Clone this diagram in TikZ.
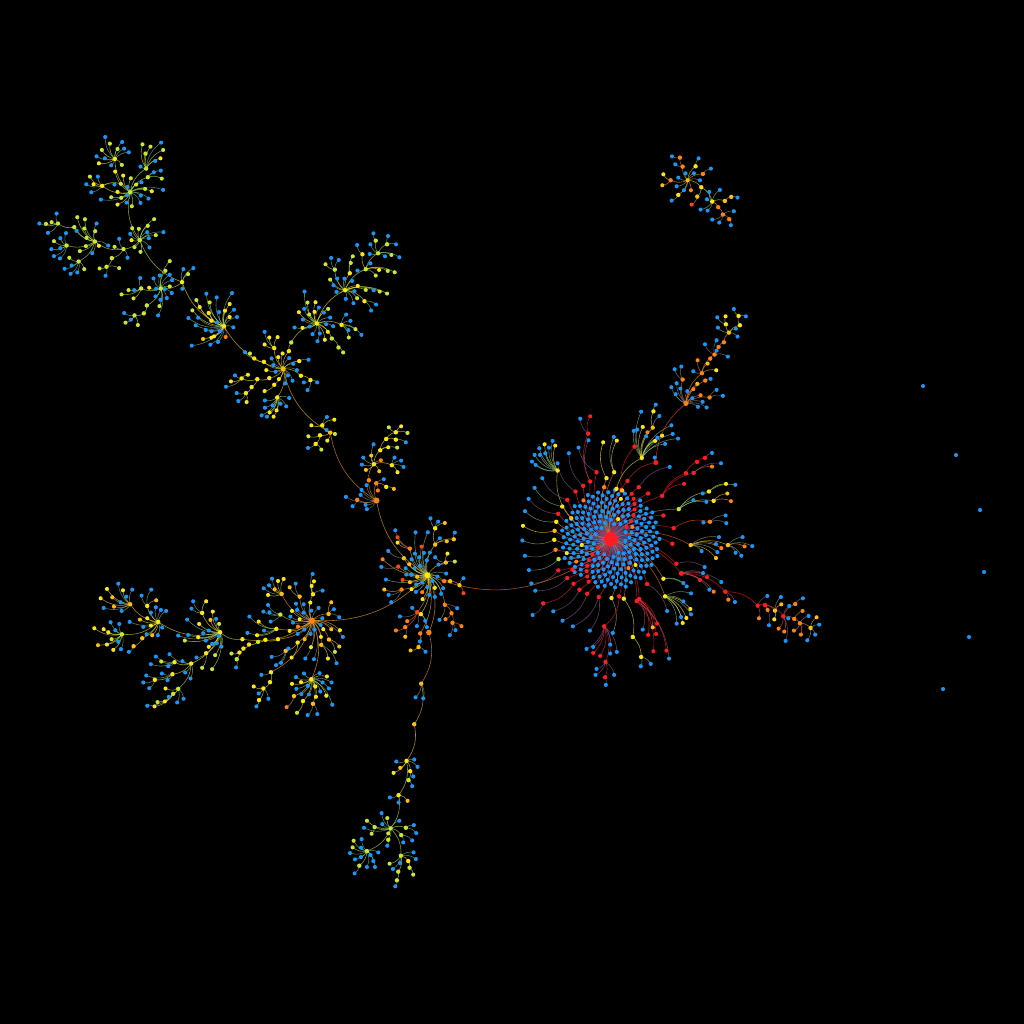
\documentclass[tikz,border=0pt]{standalone}
\pgfdeclarelayer{edges}
\pgfsetlayers{edges,main}
\definecolor{b}{RGB}{24,150,250}
\definecolor{y}{RGB}{250,232,20}
\definecolor{g}{RGB}{200,230,50}
\definecolor{a}{RGB}{250,190,20}
\definecolor{o}{RGB}{255,130,20}
\definecolor{m}{RGB}{255,70,20}
\definecolor{r}{RGB}{255,28,36}
\newcount\leafc
\newtoks\edgetoks
\tikzset{
 nd/.style={circle,inner sep=0pt,minimum size=#1,draw=none},
 nd/.default=0.041cm,
 lnk/.style={line width=0.16pt,bend left=24,opacity=0.68},
 zm/.style 2 args={shift={(#1,#2)},x=0.0033333cm,y=-0.0033333cm}
}
% links are collected and all drawn at the end, under the nodes
\newcommand\addlink[3]{%
 \edef\tmpl{\the\edgetoks\noexpand\draw[lnk,color=#3] (#1.center) to (#2.center);}%
 \global\edgetoks=\expandafter{\tmpl}}
% \HB[size]{parent}{name}{x}{y}{colour}: a node with a link from its parent
\newcommand\HB[6][0.044cm]{%
 \node[nd=#1,fill=#6] (#3) at (#4,#5) {};
 \expandafter\xdef\csname col@#3\endcsname{#6}%
 \edef\pcol{\csname col@#2\endcsname}%
 \addlink{#2}{#3}{\pcol!50!#6}}
% \LF{parent}{x/y/c,...}: leaves of a parent
\newcommand\LF[2]{%
 \edef\pcol{\csname col@#1\endcsname}%
 \foreach \px/\py/\cc in {#2}{%
  \global\advance\leafc by 1
  \node[nd,fill=\cc] (n\the\leafc) at (\px,\py) {};
  \addlink{#1}{n\the\leafc}{\pcol!50!\cc}}}
\begin{document}
\begin{tikzpicture}[x=0.01cm,y=-0.01cm]
\useasboundingbox (0,0) rectangle (1024,1024);
% free nodes
\foreach \px/\py [count=\i] in {923/386,956/455,980/510,984/572,969/637,943/689}{\node[nd,fill=b] (free\i) at (\px,\py) {};}
% main cluster
\node[nd=0.14cm,fill=r] (M) at (610.7,539) {};
\expandafter\xdef\csname col@M\endcsname{r}
\foreach \i in {20,...,244}{%
 \pgfmathsetmacro\rr{3.2*sqrt(\i)}%
 \pgfmathsetmacro\aa{mod(\i*0.381966,1)*360}%
 \pgfmathtruncatemacro\ma{mod(\i,17)}%
 \pgfmathtruncatemacro\mb{mod(\i,41)}%
 \pgfmathtruncatemacro\mc{mod(\i,53)}%
 \def\dc{b}%
 \ifnum\ma=5 \def\dc{r}\fi
 \ifnum\mb=3 \def\dc{y}\fi
 \ifnum\mc=7 \def\dc{o}\fi
 \node[nd,fill=\dc] (d\i) at ({610.7+\rr*cos(\aa)},{539+\rr*sin(\aa)}) {};
 \addlink{M}{d\i}{black!45!r!38!\dc}}
\begin{scope}[zm={500}{400}]
\HB{M}{ma}{290}{217}{r}\LF{ma}{236/143/b}
\HB{M}{mb}{271}{245}{r}\HB{mb}{mc}{265}{101}{r}\LF{mc}{241/56/b,271/49/r}\LF{mb}{266/121/b}
\HB{M}{md}{250}{258}{r}\LF{md}{207/160/b}
\HB{M}{me}{320}{235}{y}\LF{me}{310/127/y}
\HB{M}{mf}{343}{217}{y}\LF{mf}{351/122/y,342/111/b}
\HB{M}{mg}{227}{275}{r}\LF{mg}{173/190/b}
\HB{M}{mh}{214}{355}{a}\HB{mh}{mi}{173}{212}{y}
\LF{mi}{134/133/y,158/123/b,166/137/y,147/143/b,118/145/b,136/160/b,120/165/b,104/165/b,96/185/b,107/195/b}
\HB{M}{mj}{202}{300}{r}\LF{mj}{127/235/b}
\HB{M}{mk}{187}{320}{y}\LF{mk}{104/264/b}
\HB{M}{ml}{175}{342}{r}\LF{ml}{86/297/b}
\HB{M}{mm}{169}{366}{y}\LF{mm}{75/334/b}
\HB{M}{mn}{164}{393}{a}\LF{mn}{69/378/y}
\HB{M}{mo}{163}{420}{y}\LF{mo}{67/422/b}
\HB{M}{mp}{167}{450}{o}\LF{mp}{75/468/b}
\HB{M}{mq}{176}{478}{g}\LF{mq}{87/511/b}
\HB{M}{Ra}{218}{510}{r}
\HB{M}{mr}{175}{512}{r}\LF{mr}{94/551/b}
\HB{M}{ms}{202}{535}{r}\LF{ms}{106/573/b}
\HB{M}{mt}{221}{552}{r}\HB{mt}{mu}{130}{611}{r}\LF{mu}{98/646/b}
\HB{M}{mv}{239}{570}{r}\LF{mv}{160/635/b}
\HB{M}{mw}{262}{582}{r}\LF{mw}{188/663/b}
\HB{M}{mx}{297}{592}{r}\LF{mx}{219/680/b,270/693/b}
\HB{M}{my}{335}{595}{y}\LF{my}{339/700/b}
\HB{M}{mz}{358}{590}{r}\HB{mz}{na}{313}{680}{r}
\LF{na}{331/735/b,331/762/b,351/757/b,280/742/b,260/748/b,280/760/r,301/769/r}
\HB{na}{nb}{317}{787}{r}\LF{nb}{290/808/b,287/826/b,343/826/b}\HB{nb}{nc}{316}{833}{r}\LF{nc}{318/856/b}
\HB{M}{nd}{372}{597}{y}\HB{nd}{ne}{399}{712}{y}\HB{ne}{nf}{424}{772}{y}\LF{nf}{423/800/b,453/793/b}
\HB{M}{ng}{418}{598}{r}\LF{ng}{472/672/r,459/683/a,429/690/b,445/706/r,469/703/r}
\HB{M}{nh}{411}{604}{r}\LF{nh}{461/755/r,500/753/r}\LF{nh}{508/777/b}
\HB{M}{ni}{442}{553}{r}\LF{ni}{502/634/b}
\HB{M}{nj}{496}{590}{y}\LF{nj}{574/581/b,572/628/y,551/605/b,574/644/b,560/655/y,544/652/b,549/670/y,531/672/b}
\HB{M}{nk}{491}{537}{y}\LF{nk}{561/560/b,551/550/b}
\HB[0.05cm]{M}{nl}{545}{521}{r}\LF{nl}{601/541/r,622/532/r,629/570/b,642/576/o,665/547/b,610/520/b}
\HB{nl}{nm}{677}{576}{r}\LF{nm}{686/600/o,706/607/b}
\HB{M}{nn}{530}{492}{r}\LF{nn}{615/502/b}
\HB{M}{no}{573}{436}{a}\LF{no}{658/412/b,649/433/b,649/475/a,653/457/b,606/454/b,665/445/o}
\HB{no}{np}{685}{436}{a}\LF{np}{729/412/b,708/459/b,725/468/b,735/440/o,758/439/b}
\HB{M}{nq}{518}{432}{r}
\HB{M}{nr}{522}{385}{r}\HB{nr}{ns}{631}{366}{o}\LF{ns}{678/347/b,680/370/b,611/368/b}
\HB{M}{nt}{537}{328}{g}\HB{nt}{nu}{628}{275}{y}\LF{nu}{679/252/y,707/255/b,609/281/b}
\HB{nt}{nv}{642}{303}{y}\LF{nv}{683/281/a,694/304/o}\LF{nt}{620/306/b,581/301/b}
\HB{M}{nw}{487}{288}{r}\HB{nw}{nx}{582}{219}{r}\LF{nx}{637/200/o,664/190/b}
\HB{nw}{ny}{559}{220}{r}\HB{ny}{nz}{592}{186}{r}\HB{nz}{oa}{616}{174}{r}\LF{oa}{637/159/b}\LF{nw}{553/252/r}
\HB{M}{ob}{445}{281}{r}\HB{M}{oc}{491}{347}{r}
\HB{M}{od}{417}{262}{r}\LF{od}{510/201/b}
\HB{M}{oe}{383}{243}{r}\HB[0.05cm]{oe}{of}{468}{188}{r}\LF{of}{465/173/b}
\HB{M}{og}{365}{270}{r}\HB{og}{oh}{404}{140}{r}
\HB{M}{oi}{350}{267}{y}\HB{oi}{oj}{426}{174}{y}
\LF{oj}{402/93/b,412/89/b,424/35/b,429/81/y,443/97/o,439/109/b,466/123/y,487/107/y,473/113/b,515/76/b,519/102/b,496/132/b,535/116/b}
\HB{oj}{ok}{459}{83}{a}\LF{ok}{479/48/b}\HB{ok}{ol}{461}{34}{y}\LF{ol}{468/14/b}
\HB{M}{om}{313}{262}{o}\HB{M}{on}{367}{272}{a}
\end{scope}
% central-left hub
\begin{scope}[zm={340}{500}]
\HB[0.06cm]{Ra}{Hb}{263}{226}{y}
\HB{Hb}{ha}{210}{146}{o}\LF{ha}{173/112/m,173/128/y,166/91/b}
\HB{Hb}{hb}{192}{175}{a}\LF{hb}{145/153/b}
\LF{Hb}{208/193/a,197/205/b,215/178/b,225/161/b,238/172/b,252/159/b,270/158/b,261/181/b,240/198/b,224/205/b,214/224/b,199/224/b,232/231/a,245/140/m,227/97/b,264/97/b}
\HB{Hb}{hc}{286}{134}{a}\HB{hc}{hd}{286}{85}{y}\LF{hd}{315/69/a,295/65/b,272/55/b}\LF{hc}{321/124/a,300/115/b}\HB{hc}{he}{342}{118}{a}\LF{he}{345/98/b}
\HB{Hb}{hf}{318}{188}{a}\LF{hf}{323/161/y,345/185/g,296/194/b,286/172/b}
\LF{Hb}{319/221/b,293/230/b,277/243/b,263/262/b,247/248/b,247/277/o,229/254/b,210/247/a,188/240/m,138/239/b,215/268/y,228/276/b,285/264/y,310/265/b,304/282/b,285/291/b,268/285/b,248/298/y,128/178/o}
\HB{Hb}{hg}{313}{244}{o}\HB{hg}{hh}{331}{244}{a}\HB{hh}{hi}{359}{256}{a}\LF{hi}{371/235/b,371/280/m}
\HB{Hb}{hj}{185}{269}{o}\LF{hj}{133/269/a,146/285/b,154/307/b}
\HB{Hb}{hk}{175}{200}{m}\LF{hk}{124/201/b}
\HB{Hb}{hl}{315}{315}{o}\LF{hl}{352/325/b,299/360/b}\HB{hl}{hm}{335}{340}{o}\LF{hm}{317/358/o}\HB{hm}{hn}{338}{369}{o}\LF{hn}{347/391/b,330/406/b,365/379/o}
\HB{Hb}{ho}{232}{337}{m}\LF{ho}{217/324/b,180/350/b,202/364/o,231/379/b}\HB{ho}{hp}{196}{382}{o}\LF{hp}{168/392/o,196/411/a}
\HB{Hb}{hq}{243}{343}{y}\LF{hq}{256/363/b,261/382/b}
\HB{Hb}{hr}{241}{401}{o}\LF{hr}{240/425/b}\HB{hr}{hs}{236}{442}{a}\LF{hs}{212/452/a,257/456/b}
\HB[0.055cm]{Hb}{St}{267}{398}{o}
\end{scope}
% southern branch
\begin{scope}[zm={340}{670}]
\HB{St}{sa}{244}{41}{a}\LF{sa}{227/82/b,250/85/b}
\HB{sa}{sb}{223}{163}{a}\HB{sb}{sc}{200}{273}{y}\LF{sc}{169/275/b,223/269/b,233/291/b,181/294/a,161/309/y}
\HB{sc}{sd}{211}{304}{y}\LF{sd}{220/320/b}\HB{sd}{se}{206}{331}{g}\LF{se}{217/349/b}
\HB{sc}{sf}{176}{376}{y}\LF{sf}{150/383/b,176/398/b,203/393/a}
\HB{sf}{sg}{152}{476}{g}\LF{sg}{125/430/b,142/445/g,81/453/g,127/463/b,178/453/b,72/474/b,145/491/g}
\HB{sg}{sh}{104}{472}{g}\LF{sh}{95/492/g}\HB{sg}{si}{198}{474}{g}\LF{si}{222/466/b,229/490/b}
\HB{sg}{sj}{145}{510}{g}\LF{sj}{142/528/b}\HB{sg}{sk}{184}{496}{g}\LF{sk}{217/512/b,190/518/b}
\HB{sg}{sl}{81}{544}{g}\LF{sl}{41/513/g,65/508/b,38/533/g,63/534/b,30/550/b,45/569/b,63/562/b,92/556/b,115/548/b,100/574/b,81/592/b,105/592/b}\HB{sl}{sm}{58}{588}{g}\LF{sm}{44/611/b}
\HB{sg}{sn}{183}{558}{g}\LF{sn}{221/548/b,228/568/b,149/582/g,159/598/b,180/580/b}\HB{sn}{so}{205}{574}{y}\HB{so}{sp}{209}{594}{g}\LF{sp}{220/615/g}\HB{sn}{sq}{175}{606}{g}\HB{sq}{sr}{171}{632}{g}\LF{sr}{166/650/b}
\end{scope}
% lower-left
\begin{scope}[zm={80}{560}]
\HB[0.06cm]{Hb}{Wa}{697}{182}{o}
\HB{Wa}{wa}{606}{102}{a}\LF{wa}{565/105/y,552/85/b,568/76/b,577/56/b,595/63/y,612/57/y,585/88/a}
\HB{Wa}{wb}{660}{110}{a}\LF{wb}{630/82/a,648/71/b}
\HB{Wa}{wc}{700}{103}{y}\LF{wc}{696/78/y,703/64/y,699/42/b,729/92/b}
\LF{Wa}{692/128/y,672/133/b,649/131/b,652/150/b,672/158/b,695/152/b,717/144/b,660/178/y,632/170/b,640/188/b,637/153/y,630/213/y,655/200/o,654/222/b,674/209/b,693/222/b,705/209/b,723/195/b,728/175/b,731/208/y,755/208/a,781/211/y,790/231/b,724/231/y,694/262/y,677/296/b,703/298/b,675/238/a}
\HB{Wa}{wd}{747}{162}{a}\LF{wd}{755/127/a,763/148/b,779/172/b}
\HB{Wa}{we}{602}{164}{g}\LF{we}{551/155/b,569/157/b,565/135/b,573/185/b}
\HB{Wa}{wf}{590}{207}{y}\LF{wf}{537/185/y,509/170/b,553/212/b,532/226/y,503/219/b}
\HB{Wa}{wg}{748}{239}{a}\LF{wg}{779/260/a,766/276/g}
\HB{Wa}{wh}{725}{255}{a}\LF{wh}{745/296/y,771/310/b}
\HB{Wa}{wi}{654}{248}{y}\LF{wi}{636/293/y}\HB{wi}{wj}{618}{273}{a}\LF{wj}{626/266/b,604/309/b,589/316/b,576/291/b}
\HB{Wa}{wk}{595}{238}{y}\HB{wk}{wl}{557}{240}{y}\HB{wl}{wm}{535}{246}{g}\HB{wm}{wn}{508}{254}{y}\HB{wn}{wo}{491}{266}{y}\HB{wo}{wp}{479}{278}{y}\LF{wp}{455/281/g}\HB{wp}{wq}{471}{298}{g}\LF{wq}{469/323/b}
\HB{Wa}{wr}{574}{337}{y}\LF{wr}{545/345/b}\HB{wr}{ws}{571}{367}{y}\HB{ws}{wt}{551}{386}{y}\LF{wt}{522/380/y,537/401/b,566/417/b}\HB{wt}{wu}{538}{421}{y}\LF{wu}{530/440/b}
\HB{Wa}{wv}{695}{358}{y}\LF{wv}{649/352/b,673/341/b,720/340/b,742/350/y,756/368/b,664/367/y,650/387/b,637/372/y,665/403/b,685/378/b,688/404/b,729/368/b,748/386/b,722/395/b,740/408/y,709/411/y,758/435/b}
\HB{wv}{wx}{707}{380}{y}\HB{wv}{wy}{643}{409}{a}\LF{wy}{621/442/o}\HB{wv}{wz}{670}{424}{y}\LF{wz}{652/459/g}\HB{wv}{xa}{700}{432}{a}\LF{xa}{684/466/b,713/463/b}
\HB{Wa}{xb}{488}{238}{y}\HB{xb}{Wb}{421}{217}{y}
\LF{Wb}{418/192/g,392/180/a,399/155/y,322/179/b,358/192/y,409/177/b,387/212/b,370/220/b,378/242/b,411/250/b,397/252/b,417/228/b,425/260/b,387/261/y,406/286/g,397/328/g,355/232/y,315/242/g,325/225/b,295/227/b}
\HB{Wb}{wc1}{367}{159}{y}\LF{wc1}{340/124/b,379/124/y,335/146/b}
\HB{Wb}{wc2}{379}{280}{y}\LF{wc2}{367/324/g,350/293/b}
\HB{Wb}{Wc}{334}{311}{y}\LF{Wc}{269/283/b,308/304/b,316/338/b,332/356/b}
\HB{Wc}{wd1}{284}{307}{y}\LF{wd1}{228/290/b,213/313/b,244/305/g,265/319/b}
\HB{Wc}{wd2}{278}{343}{y}\LF{wd2}{246/341/b,199/347/b,263/361/b}\HB{wd2}{wd3}{225}{360}{y}\LF{wd3}{190/368/b,208/385/b}
\HB{Wc}{wd4}{295}{387}{g}\LF{wd4}{257/386/y,267/411/b,292/428/b,311/417/b}\HB{wd4}{wd5}{280}{402}{g}\LF{wd5}{255/425/y,233/427/g,224/440/y,202/438/b}
\HB{Wb}{Wd}{235}{186}{y}\LF{Wd}{180/179/a,202/175/y,149/186/b,190/201/b,213/197/y,200/223/b,217/226/a,234/226/b,247/203/b,213/158/b,228/142/b,243/150/b,259/153/b}
\HB{Wd}{we1}{202}{138}{y}\LF{we1}{185/107/b,229/121/a,214/89/b}
\HB{Wd}{we2}{187}{235}{a}\HB{we2}{we3}{161}{259}{a}\LF{we3}{147/276/b}
\HB{Wd}{we4}{151}{133}{a}\LF{we4}{129/91/y,97/112/a,115/71/b,139/110/b,81/87/y,62/115/y,102/140/a,71/144/b,125/153/b,122/127/b,157/89/b}
\HB{Wd}{Wf}{126}{223}{g}\LF{Wf}{85/217/y,71/208/y,43/205/y,92/187/b,118/192/b,106/211/b,95/238/g,81/254/y,54/256/a,100/270/y,123/268/b,115/246/b}
\end{scope}
% up the chain
\begin{scope}[zm={300}{410}]
\HB[0.06cm]{Hb}{Nb}{230}{272}{o}
\LF{Nb}{138/261/b,197/285/b,201/298/b,182/255/b,185/240/b,200/226/b}
\HB{Nb}{na1}{172}{270}{o}\LF{na1}{158/289/b}
\HB{Nb}{na2}{229}{220}{o}\LF{na2}{234/242/o,252/208/b}\HB{na2}{na3}{259}{231}{y}\LF{na3}{282/237/a}
\HB{Nb}{na4}{207}{211}{o}\HB{na4}{Nc}{222}{163}{y}
\LF{Nc}{190/143/b,186/164/b,198/180/a,238/184/a,214/137/a,221/103/b,243/151/o}
\HB{Nc}{nc1}{276}{166}{y}\LF{nc1}{284/143/b,304/152/b,311/171/b,293/187/y}
\HB{Nc}{nc2}{241}{121}{y}\LF{nc2}{265/112/y,292/113/g}\HB{nc2}{nc3}{259}{87}{y}\HB{nc3}{nc4}{288}{89}{y}\LF{nc4}{318/97/b}\HB{nc3}{nc5}{288}{67}{y}\LF{nc5}{267/52/g,304/49/y,323/69/g}
\HB{Nb}{Nd}{91}{68}{a}\LF{Nd}{105/72/g,82/92/y,80/60/b}
\HB{Nd}{nd1}{67}{46}{y}\LF{nd1}{81/21/b,103/29/y,34/46/y}
\HB{Nd}{nd2}{60}{76}{y}\LF{nd2}{25/79/g}\HB{nd2}{nd3}{47}{102}{y}\LF{nd3}{24/114/b,64/119/g}
\end{scope}
% root of upper-left tree
\begin{scope}[zm={220}{225}]
\HB[0.05cm]{Nd}{Ua}{190}{432}{a}
\LF{Ua}{188/386/y,175/397/y,155/401/b,208/400/b,220/417/b,160/421/b,231/436/b,139/436/y,167/441/b,177/463/y,204/452/b,218/468/b,196/476/b}
\HB{Ua}{ua1}{163}{370}{y}\LF{ua1}{134/321/b,148/338/y,173/337/y,134/359/y}
\HB{Ua}{ua2}{132}{411}{y}\HB{ua2}{ua3}{103}{401}{y}\LF{ua3}{90/386/g,75/382/b}
\HB{Ua}{ua4}{238}{409}{y}\LF{ua4}{266/405/b}
\HB{Ua}{ua5}{148}{460}{y}\HB{ua5}{ua6}{112}{463}{y}\HB{ua6}{ua7}{65}{461}{y}\LF{ua7}{33/470/y,18/486/b,45/452/b,84/450/y}
\HB{ua6}{ua8}{95}{487}{y}\HB{ua8}{ua9}{78}{505}{y}\LF{ua9}{50/505/b,55/529/b,80/532/y}
\HB{Ua}{ub1}{243}{453}{y}\HB{ub1}{ub2}{272}{466}{y}\LF{ub2}{292/473/b,263/496/b,252/473/b}
\HB{Ua}{ub3}{163}{480}{y}\LF{ub3}{134/499/y}
\HB{Ua}{ub4}{172}{518}{y}\LF{ub4}{208/520/b,135/527/b,199/545/b,182/537/b,158/542/b,135/549/b,149/563/y,125/572/b,141/576/b,161/576/y,170/557/y}
\HB{Ua}{ub5}{207}{379}{y}\HB{ub5}{ub6}{214}{353}{g}
\HB{ub6}{Uc}{291}{296}{y}
\LF{Uc}{263/233/g,287/232/y,284/261/y,268/269/g,297/248/b,312/263/b,325/252/g,331/278/b,237/262/y,253/252/b,254/200/b,249/284/b,248/309/y,224/308/b,270/305/b,278/328/b,293/349/b,300/326/b,315/345/y,319/298/b,340/304/b,324/321/y}
\HB{Uc}{uc1}{336}{341}{g}\HB{uc1}{uc2}{356}{368}{g}\LF{uc2}{370/383/g}
\HB{Uc}{uc3}{365}{300}{y}\LF{uc3}{379/269/b,392/288/b,407/313/g,387/338/g,386/316/b,425/330/b}
\HB{Uc}{Ud}{376}{196}{y}
\LF{Ud}{352/161/b,374/161/b,331/164/g,341/181/b,397/168/b,414/183/y,438/195/g,462/196/b,480/200/g,502/206/g,404/199/b,350/201/b,378/222/b,401/235/b,412/220/g}
\HB{Ud}{ud1}{345}{134}{g}\LF{ud1}{334/99/b,357/105/b,317/118/g}
\HB{Ud}{ud2}{390}{145}{y}\LF{ud2}{393/114/g,399/94/g}
\HB{Ud}{ud3}{434}{229}{y}\LF{ud3}{469/239/b,454/257/b}
\HB{Ud}{Ue}{438}{133}{g}\LF{Ue}{413/137/b,452/115/b,478/135/y,504/138/g,525/142/g,468/152/g}
\HB{Ue}{ue1}{428}{88}{y}\LF{ue1}{412/60/b}
\HB{Ue}{ue2}{475}{85}{g}\LF{ue2}{452/58/b,450/87/b,496/94/b,515/90/g,539/97/b}
\HB{ue2}{ue3}{468}{47}{g}\LF{ue3}{461/25/b}
\HB{ue2}{ue4}{502}{58}{g}\LF{ue4}{505/33/b,529/58/b}
\end{scope}
% top-left tree
\begin{scope}[zm={30}{130}]
\HB{Ua}{Ta}{583}{590}{y}
\LF{Ta}{520/628/a,528/601/b,545/605/b,570/605/b,545/624/y,553/620/y,565/637/b,542/645/b,588/622/o,486/648/b,611/593/b,622/562/b,600/562/y,613/540/b,586/543/y,607/490/b,600/523/y,568/547/b,562/578/b,498/587/b,505/564/b,476/565/b,488/542/g,500/511/g,530/492/b,540/518/g,561/503/b,510/532/y}
\HB{Ta}{ta1}{537}{550}{y}\HB{ta1}{ta2}{545}{573}{y}
\HB{Ta}{Tb}{457}{457}{y}\LF{Tb}{461/418/b,475/433/g,491/415/b,458/477/b}
\HB{Tb}{Tc}{393}{476}{g}
\LF{Tc}{420/394/g,407/423/g,390/437/b,371/446/b,420/435/b,427/451/b,420/470/g,426/490/b,411/505/b,392/510/b,377/500/b,379/477/b,405/478/b,358/474/y,385/557/b,389/529/g}
\HB{Tc}{tc1}{334}{476}{g}\LF{tc1}{331/445/b,313/481/b,296/481/g,275/494/g,311/506/g}
\HB{Tc}{tc2}{351}{527}{g}\HB{tc2}{tc3}{342}{551}{g}\HB{tc3}{tc4}{314}{557}{g}\LF{tc4}{283/550/b,303/570/b,287/579/g,324/586/g}
\HB{Tb}{Te}{330}{331}{g}
\LF{Te}{373/268/g,354/288/g,352/307/b,307/295/g,327/297/g,301/312/b,305/331/y,357/325/b,359/353/b,378/316/g,401/307/b,332/366/g,314/352/g}
\HB{Te}{Tf}{301}{187}{g}
\HB{Tf}{tf1}{255}{87}{y}\LF{tf1}{240/41/g,226/21/b,216/60/g,200/79/b,207/100/y,225/85/b,244/106/b,263/57/g,277/36/b,283/56/b,297/67/b,276/105/g}
\LF{Tf}{256/125/y,280/137/y,346/177/g,366/184/y,400/180/b,335/157/b,319/164/g,303/145/g,263/186/y,244/202/g,213/209/b,274/204/g,263/224/y,290/218/b,306/229/g,332/219/b,333/197/b,356/206/b,293/171/b,292/195/b}
\HB{Tf}{tf2}{349}{116}{g}\LF{tf2}{332/110/b,376/93/b,338/43/g,362/50/g,392/85/y,400/60/g,394/38/b}\HB{tf2}{tf3}{347}{71}{g}
\HB{Tf}{tf4}{354}{142}{g}\LF{tf4}{372/127/b,393/122/b,396/146/g}
\HB{Tf}{tf5}{217}{168}{y}\LF{tf5}{191/163/y,180/140/g,204/140/b,169/163/b,184/187/b,254/164/b,273/162/g}
\HB{Te}{Tg}{281}{358}{g}\LF{Tg}{254/351/g,268/327/b,293/384/b}
\HB{Tg}{tg1}{246}{385}{g}\HB{tg1}{tg2}{230}{411}{g}\LF{tg2}{209/416/g,227/438/b,268/415/g}
\HB{Tg}{Th}{195}{335}{g}\LF{Th}{170/324/g,163/296/g,142/262/g,165/268/g,200/281/b,196/304/g,140/303/b,207/348/y,235/347/b,168/349/g,150/364/g,187/370/b}
\HB{Th}{th1}{133}{292}{g}\HB{th1}{th2}{84}{281}{g}\LF{th2}{65/277/g,48/282/g,28/281/b,80/251/b,54/309/b}
\HB{Th}{Ti}{110}{347}{g}\LF{Ti}{72/334/g,91/325/b,108/310/b,64/358/b,91/355/b,72/379/b,90/386/b}
\HB{Th}{Tj}{146}{395}{g}\LF{Tj}{118/384/g,125/407/b,104/417/b,122/432/b,142/428/b,163/418/g}
\end{scope}
% upper right branch
\begin{scope}[zm={660}{300}]
\HB[0.05cm]{of}{Oa}{78}{311}{o}
\LF{Oa}{50/250/b,34/262/b,61/266/b,47/283/b,82/274/b,97/295/b,128/306/b,140/323/b,114/321/b,122/286/o,100/268/o,112/252/a}
\HB{Oa}{oa1}{68}{239}{o}\LF{oa1}{44/208/b,64/200/b}
\HB{Oa}{oa2}{149}{293}{o}\LF{oa2}{170/270/b,189/288/b}
\HB{Oa}{oa3}{136}{242}{o}\LF{oa3}{152/237/b}
\HB{Oa}{oa4}{126}{220}{o}\LF{oa4}{113/181/o,169/211/y,100/214/b,143/191/a}
\HB{oa4}{oa5}{151}{176}{o}\HB{oa5}{oa6}{164}{164}{o}\LF{oa6}{135/133/b,204/170/b,170/152/b,170/121/b}
\HB{oa6}{oa7}{176}{141}{o}\HB{oa7}{oa8}{192}{127}{o}\HB{oa8}{oa9}{207}{98}{a}\LF{oa9}{174/83/b,228/86/b,233/110/b}
\HB{oa9}{ob1}{198}{73}{y}\LF{ob1}{172/52/b,197/49/y}
\HB{oa9}{ob2}{240}{76}{y}\HB{ob2}{ob3}{236}{48}{y}\LF{ob3}{222/27/b,258/49/b}
\end{scope}
% lower right branch
\begin{scope}[zm={745}{585}]
\HB{nm}{Ea}{38}{62}{r}\LF{Ea}{67/33/b,42/100/o}
\HB{Ea}{Eb}{60}{60}{r}\LF{Eb}{68/75/o,72/121/b}
\HB{Eb}{ea1}{90}{77}{a}\LF{ea1}{108/36/b,109/58/a,88/103/y}
\HB{Eb}{Ec}{115}{94}{r}\LF{Ec}{133/63/b,101/131/o,118/140/o,122/168/b,130/100/b}
\HB{Ec}{ec1}{151}{57}{o}\LF{ec1}{174/40/b}
\HB{Ec}{Ed}{148}{102}{o}\LF{Ed}{173/78/o}
\HB{Ed}{Ee}{165}{115}{o}\LF{Ee}{191/93/b,147/137/o,168/149/o}
\HB{Ee}{Ef}{197}{129}{a}\LF{Ef}{215/97/a,223/119/b,211/149/b,187/166/b}
\end{scope}
% top right tree
\begin{scope}[zm={650}{145}]
\node[nd,fill=a] (Ka) at (113,106) {};
\expandafter\xdef\csname col@Ka\endcsname{a}
\HB{Ka}{ka1}{98}{65}{o}\LF{ka1}{76/58/b}\HB{ka1}{ka2}{90}{38}{o}\LF{ka2}{66/34/b}
\HB{Ka}{ka3}{62}{106}{o}\LF{ka3}{40/88/y,37/121/a}
\LF{Ka}{85/98/b,107/85/b,132/85/b,150/106/b,123/136/o,80/124/b,102/136/b}
\HB{Ka}{ka4}{137}{64}{y}\LF{ka4}{146/40/b}
\HB{Ka}{ka5}{159}{87}{o}\LF{ka5}{183/71/b}
\HB{Ka}{ka6}{85}{150}{y}\LF{ka6}{65/167/b}
\HB{Ka}{ka7}{154}{127}{y}\HB{ka7}{ka8}{142}{155}{a}\LF{ka8}{125/179/m}
\HB{ka7}{Kb}{187}{170}{y}\LF{Kb}{178/141/b,210/135/b,171/163/b,152/194/b,173/197/b}
\HB{Kb}{kb1}{205}{187}{o}\HB{kb1}{kb2}{219}{209}{o}\LF{kb2}{187/224/b,208/233/b,252/199/b}\HB{kb2}{kb3}{238}{223}{o}\LF{kb3}{243/241/b}
\HB{Kb}{kb4}{225}{168}{a}\HB{kb4}{kb5}{244}{156}{a}\LF{kb5}{263/158/b}
\end{scope}
% the background and all links, under the nodes
\begin{pgfonlayer}{edges}
\fill[black] (0,0) rectangle (1024,1024);
\the\edgetoks
\end{pgfonlayer}
\end{tikzpicture}
\end{document}
